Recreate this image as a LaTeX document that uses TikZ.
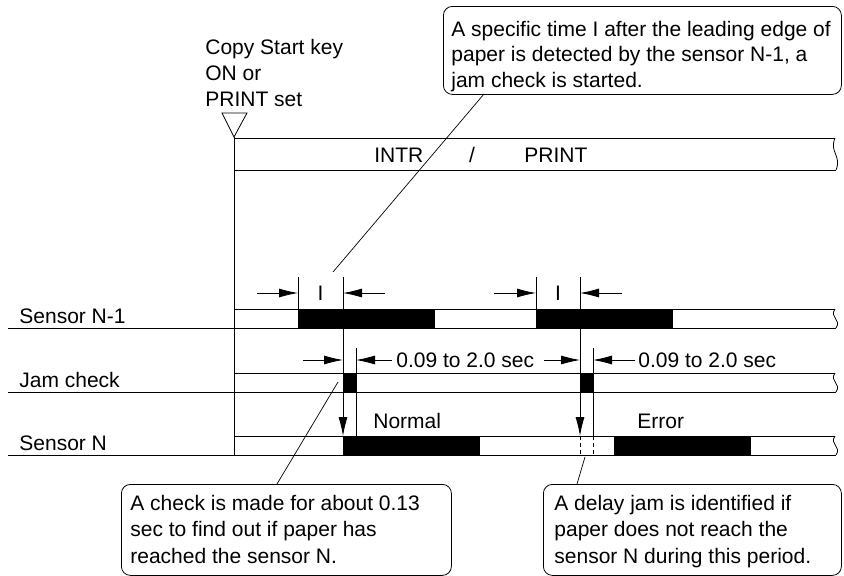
\documentclass[tikz,border=0pt]{standalone}
\usepackage{fontspec}
\setmainfont{Liberation Sans}
\usetikzlibrary{arrows.meta}
\newcommand\mybreak[2]{\draw (835,#1) .. controls (829,{#1+0.45*(#2-#1)}) and (842,{#1+0.55*(#2-#1)}) .. (836,#2);}
\begin{document}
\begin{tikzpicture}[x=1pt,y=-1pt, line width=0.8pt,
  txt/.style={font=\fontsize{21}{25}\selectfont, inner sep=0pt, anchor=base west},
  ctxt/.style={font=\fontsize{21}{25}\selectfont, inner sep=0pt, anchor=base},
  callout/.style={draw, rounded corners=9pt, inner sep=0pt, anchor=north west},
  dim/.style={-{Latex[length=19pt,width=9pt]}},
  leader/.style={line width=0.7pt},
  bar/.style={fill=black}]
\useasboundingbox (0,0) rectangle (844,576);

% --- start mark and text
\node[txt] (cs1) at (205,54) {Copy Start key};
\node[txt] (cs2) at (205,80) {ON or};
\node[txt] (cs3) at (205,106) {PRINT set};
\coordinate (tl) at (222,113);
\coordinate (tr) at (247,113);
\coordinate (tp) at (234,137);
\draw (tl) -- (tr) -- (tp) -- cycle;
\coordinate (vbot) at (234,455);
\draw (tp) -- (vbot);

% --- INTR / PRINT band
\draw (234,138) -- (835,138);
\draw (234,170) -- (836,170);
\mybreak{138}{170}
\node[txt] (intr) at (374,162) {INTR};
\node[ctxt] (slash) at (472,162) {/};
\node[txt] (print) at (524,162) {PRINT};

% --- top callout
\node[callout, minimum width=398pt, minimum height=88pt] (topbox) at (443,6) {};
\node[txt] (t1) at (451,36) {A specific time I after the leading edge of};
\node[txt] (t2) at (451,61.5) {paper is detected by the sensor N-1, a};
\node[txt] (t3) at (451,87) {jam check is started.};
\coordinate (topl) at (484,94);
\coordinate (topr) at (333,272);
\draw[leader] (topl) -- (topr);

% --- rows
\draw (234,309) -- (835,309); \draw (8,328) -- (836,328); \mybreak{309}{328}
\draw (234,373) -- (835,373); \draw (8,392) -- (836,392); \mybreak{373}{392}
\draw (234,436) -- (835,436); \draw (8,455) -- (836,455); \mybreak{436}{455}
\node[txt] (s1) at (19,323) {Sensor N-1};
\node[txt] (s2) at (19,387) {Jam check};
\node[txt] (s3) at (19,450) {Sensor N};

% bars
\fill (298,309) rectangle (435,328);
\fill (536,309) rectangle (673,328);
\fill (343,373) rectangle (356,392);
\fill (580,373) rectangle (593,392);
\fill (343,436) rectangle (480,455);
\fill (614,436) rectangle (751,455);

% --- I dimensions
\coordinate (a1) at (298,277); \coordinate (a1b) at (298,309);
\coordinate (b1) at (343,277); \coordinate (b1b) at (343,436);
\coordinate (a2) at (536,277); \coordinate (a2b) at (536,309);
\coordinate (b2) at (580,277); \coordinate (b2b) at (580,436);
\draw (a1) -- (a1b);
\draw (a2) -- (a2b);
\draw[dim] (b1) -- (b1b);
\draw[dim] (b2) -- (b2b);
\coordinate (i1l) at (257,293); \coordinate (i1lt) at (298,293);
\coordinate (i1r) at (385,293); \coordinate (i1rt) at (343,293);
\coordinate (i2l) at (494,293); \coordinate (i2lt) at (536,293);
\coordinate (i2r) at (622,293); \coordinate (i2rt) at (580,293);
\draw[dim] (i1l) -- (i1lt);
\draw[dim] (i1r) -- (i1rt);
\draw[dim] (i2l) -- (i2lt);
\draw[dim] (i2r) -- (i2rt);
\node[ctxt] (I1) at (320.5,300) {I};
\node[ctxt] (I2) at (558,300) {I};

% --- jam check dimensions
\coordinate (c1) at (356,348); \coordinate (c1b) at (356,436);
\coordinate (c2) at (593,348); \coordinate (c2b) at (593,436);
\draw (c1) -- (c1b);
\draw (c2) -- (c2b);
\draw[dashed, dash pattern=on 4pt off 3pt, line width=0.7pt] (b2b) -- (580,455);
\draw[dashed, dash pattern=on 4pt off 3pt, line width=0.7pt] (c2b) -- (593,455);
\coordinate (j1l) at (303,360); \coordinate (j1lt) at (343,360);
\coordinate (j1r) at (392,360); \coordinate (j1rt) at (356,360);
\coordinate (j2l) at (544,360); \coordinate (j2lt) at (580,360);
\coordinate (j2r) at (635,360); \coordinate (j2rt) at (593,360);
\draw[dim] (j1l) -- (j1lt);
\draw[dim] (j1r) -- (j1rt);
\draw[dim] (j2l) -- (j2lt);
\draw[dim] (j2r) -- (j2rt);
\node[txt] (d1) at (396,367.5) {0.09 to 2.0 sec};
\node[txt] (d2) at (638,367.5) {0.09 to 2.0 sec};
\node[txt] (normal) at (373,428) {Normal};
\node[txt] (error) at (637,428) {Error};

% --- bottom callouts
\node[callout, minimum width=330pt, minimum height=91pt] (lbox) at (121,484) {};
\node[txt] (l1) at (130,510) {A check is made for about 0.13};
\node[txt] (l2) at (130,536.5) {sec to find out if paper has};
\node[txt] (l3) at (130,563) {reached the sensor N.};
\node[callout, minimum width=298pt, minimum height=91pt] (rbox) at (543,484) {};
\node[txt] (r1) at (554,510) {A delay jam is identified if};
\node[txt] (r2) at (554,536.5) {paper does not reach the};
\node[txt] (r3) at (554,563) {sensor N during this period.};
\coordinate (lls) at (338,382);
\coordinate (lle) at (277,484);
\draw[leader] (lls) -- (lle);
\coordinate (rls) at (585,457);
\coordinate (rle) at (577,484);
\draw[leader] (rls) -- (rle);
\end{tikzpicture}
\end{document}
